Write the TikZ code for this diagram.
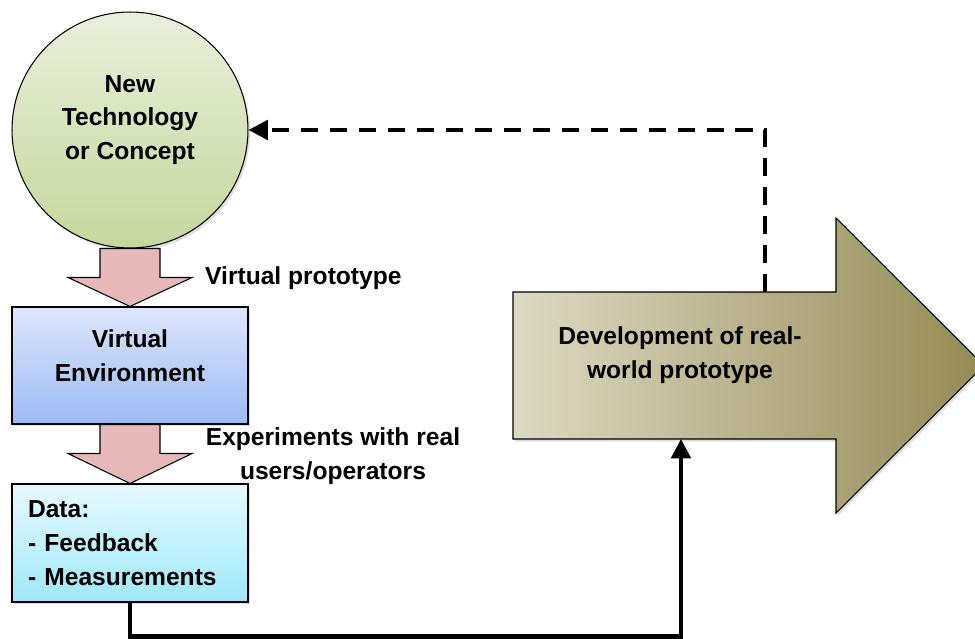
\documentclass[tikz,border=0pt]{standalone}
\usepackage{fontspec}
\setmainfont{Liberation Sans}
\usepackage{tikz}
\usetikzlibrary{arrows.meta,calc,shadows}

\definecolor{techtop}{HTML}{E9EFDC}
\definecolor{techbot}{HTML}{C4D79B}
\definecolor{vetop}{HTML}{DDE6FC}
\definecolor{vebot}{HTML}{9CBAF5}
\definecolor{datatop}{HTML}{E6F9FD}
\definecolor{databot}{HTML}{9FE8FA}
\definecolor{pinkarr}{HTML}{E6B9B8}
\definecolor{devleft}{HTML}{DDD9C3}
\definecolor{devright}{HTML}{948A54}

\begin{document}
\begin{tikzpicture}[x=0.02cm, y=-0.02cm,
        every node/.style={font=\fontsize{14}{19.3}\selectfont\bfseries},
        shade/.style={drop shadow={opacity=0.25, shadow xshift=0.04cm, shadow yshift=-0.05cm}},
        box/.style={draw, line width=0.6pt, minimum width=4.72cm, shade},
        blockarr/.style={draw, line width=0.6pt, fill=pinkarr},
        conn/.style={line width=2.3pt, -{Triangle[length=11pt,width=11pt]}}]
        \useasboundingbox (0,0) rectangle (975,639);

        % shapes on the left
        \node[box, circle, minimum size=4.72cm, inner sep=0pt,
              top color=techtop, bottom color=techbot] (tech) at (130,130) {};
        \node[align=center] at ([yshift=0.20cm]tech.center) {New\\Technology\\or Concept};
        \node[box, minimum height=2.34cm, top color=vetop, bottom color=vebot] (ve) at (130,365.5) {};
        \node[align=center] at ([yshift=0.20cm]ve.center) {Virtual\\Environment};
        \node[box, minimum height=2.36cm, text width=4.08cm, inner xsep=0.32cm, align=left,
              top color=datatop, bottom color=databot] (data) at (130,543)
              {Data:\\- Feedback\\- Measurements};

        % block arrows between them
        \foreach \a/\b in {tech/ve, ve/data}
          \draw[blockarr] ($(\a.south)+(-30,0)$) -- ++(0,29) -- ++(-32,0) -- (\b.north)
                -- ($(\a.south)+(62,29)$) -- ++(-32,0) -- ($(\a.south)+(30,0)$) -- cycle;
        \node[anchor=west] (vp) at (199,278) {Virtual prototype};
        \node[align=center] (exp) at (333,456) {Experiments with real\\users/operators};

        % big arrow
        \draw[line width=0.6pt, left color=devleft, right color=devright, shade]
             (513,292) -- (836,292) -- (836,218) -- (984,365.5) -- (836,513)
             -- (836,439) -- (513,439) -- cycle;
        \node[align=center] (dev) at (680,355) {Development of real-\\world prototype};
        \coordinate (devtop) at (765,292);
        \coordinate (devbot) at (681,439);

        % connectors
        \draw[conn] (data.south) -- ++(0,34) -| (devbot);
        \draw[conn, dash pattern=on 10pt off 6.5pt] (devtop) |- (tech.east);
    \end{tikzpicture}
\end{document}
